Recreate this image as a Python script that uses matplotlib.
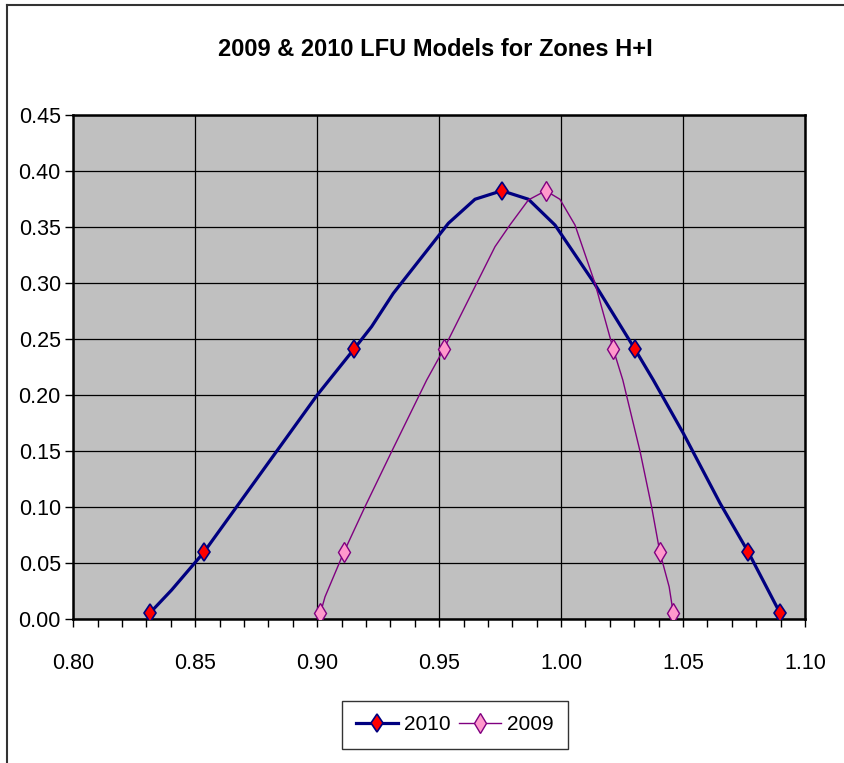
import matplotlib.pyplot as plt
from matplotlib.lines import Line2D
from matplotlib.ticker import MultipleLocator, FormatStrFormatter

# marker points
x_2010 = [0.8313, 0.8535, 0.9151, 0.9757, 1.0303, 1.0768, 1.0898]
y_2010 = [0.0054, 0.0597, 0.2410, 0.3822, 0.2408, 0.0597, 0.0054]
x_2009 = [0.9013, 0.9109, 0.9519, 0.9937, 1.0214, 1.0405, 1.0460]
y_2009 = [0.0054, 0.0597, 0.2410, 0.3822, 0.2408, 0.0597, 0.0054]

# line traces
line_x_2010 = [0.8313, 0.8403, 0.8535, 0.9000, 0.9151, 0.9223, 0.9312, 0.9538,
               0.9647, 0.9757, 0.9866, 0.9975, 1.0132, 1.0303, 1.0378, 1.0501,
               1.0652, 1.0768, 1.0898]
line_y_2010 = [0.0054, 0.0261, 0.0597, 0.2000, 0.2410, 0.2610, 0.2907, 0.3532,
               0.3746, 0.3822, 0.3746, 0.3516, 0.3011, 0.2408, 0.2134, 0.1659,
               0.1034, 0.0597, 0.0054]
line_x_2009 = [0.9013, 0.9032, 0.9109, 0.9196, 0.9305, 0.9449, 0.9519, 0.9565,
               0.9729, 0.9790, 0.9866, 0.9937, 0.9995, 1.0057, 1.0139, 1.0214,
               1.0253, 1.0324, 1.0371, 1.0405, 1.0443, 1.0460]
line_y_2009 = [0.0054, 0.0200, 0.0597, 0.1004, 0.1495, 0.2134, 0.2410, 0.2610,
               0.3323, 0.3516, 0.3740, 0.3822, 0.3746, 0.3516, 0.2996, 0.2408,
               0.2134, 0.1495, 0.1004, 0.0597, 0.0290, 0.0054]

NAVY = "#000080"
PURPLE = "#800080"
PINK = "#FF99CC"

plt.rcParams["font.family"] = ["Liberation Sans", "DejaVu Sans"]

fig = plt.figure(figsize=(8.45, 7.63), dpi=100)
ax = fig.add_axes([73.3 / 845, 1 - 619.3 / 763, (805 - 73.3) / 845, (619.3 - 114.7) / 763])
ax.set_facecolor("#C0C0C0")

ax.plot(line_x_2010, line_y_2010, color=NAVY, lw=2.3, zorder=3)
ax.plot(x_2010, y_2010, ls="none", marker="d", ms=9.5, mfc="red", mec=NAVY, mew=1.2, zorder=4)
ax.plot(line_x_2009, line_y_2009, color=PURPLE, lw=1.0, zorder=3)
ax.plot(x_2009, y_2009, ls="none", marker="d", ms=10, mfc=PINK, mec=PURPLE, mew=1.0, zorder=4)

ax.set_xlim(0.80, 1.10)
ax.set_ylim(0.0, 0.45)
ax.xaxis.set_major_locator(MultipleLocator(0.05))
ax.xaxis.set_minor_locator(MultipleLocator(0.01))
ax.yaxis.set_major_locator(MultipleLocator(0.05))
ax.xaxis.set_major_formatter(FormatStrFormatter("%.2f"))
ax.yaxis.set_major_formatter(FormatStrFormatter("%.2f"))
ax.tick_params(axis="both", which="both", direction="out", length=6, width=1, color="black",
               labelsize=15.5)
ax.tick_params(axis="x", pad=18)
ax.tick_params(axis="y", pad=3)
ax.grid(True, which="major", color="black", lw=0.9, zorder=1)
ax.set_axisbelow(True)
for s in ax.spines.values():
    s.set_linewidth(1.8)
    s.set_color("black")

fig.text(0.515, 1 - 50 / 763, "2009 & 2010 LFU Models for Zones H+I", ha="center", va="center",
         fontsize=17, fontweight="bold")

handles = [
    Line2D([], [], color=NAVY, lw=2.3, marker="d", ms=9.5, mfc="red", mec=NAVY, mew=1.2),
    Line2D([], [], color=PURPLE, lw=1.0, marker="d", ms=10, mfc=PINK, mec=PURPLE, mew=1.0),
]
fig.legend(handles, ["2010", "2009"], loc="center", bbox_to_anchor=(455 / 845, 1 - 725 / 763),
           ncol=2, fontsize=15, frameon=True, fancybox=False, edgecolor="black",
           handlelength=2.0, handletextpad=0.3, columnspacing=0.4, borderpad=0.7,
           borderaxespad=0)

# outer chart border (left and top edges)
fig.add_artist(Line2D([7 / 845, 7 / 845], [0, 1 - 5 / 763], color="#333333", lw=1.5))
fig.add_artist(Line2D([7 / 845, 1], [1 - 5 / 763, 1 - 5 / 763], color="#333333", lw=1.5))

fig.savefig("out.png", dpi=100)
